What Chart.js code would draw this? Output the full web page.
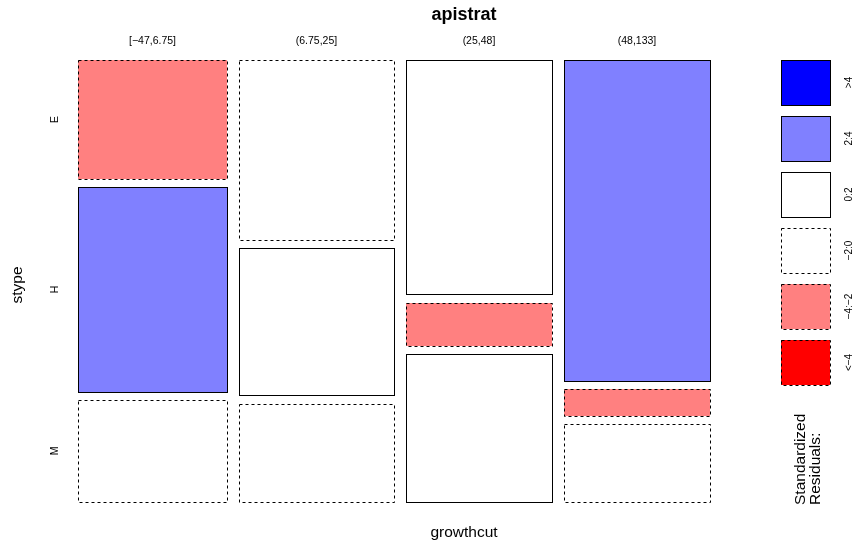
<!DOCTYPE html>
<html>
<head>
<meta charset="utf-8">
<script src="https://cdn.jsdelivr.net/npm/chart.js@4.4.0/dist/chart.umd.min.js"></script>
<style>
    body { margin: 0; background: #fff; }
    #wrap { width: 854px; height: 544px; }
</style>
</head>
<body>
<div id="wrap"><canvas id="mosaicChart"></canvas></div>
<script>
// Mosaic plot of apistrat: stype within growthcut, shaded by Pearson residuals

const growthcut = ['[\u221247,6.75]', '(6.75,25]', '(25,48]', '(48,133]'];
const stype = ['E', 'H', 'M'];

// counts for each growthcut column, in stype order E, H, M
const countsCut1 = [14, 24, 12];
const countsCut2 = [22, 18, 12];
const countsCut3 = [27, 5, 17];
const countsCut4 = [37, 3, 9];
const counts = [countsCut1, countsCut2, countsCut3, countsCut4];

const legendLabels = ['>4', '2:4', '0:2', '\u22122:0', '\u22124:\u22122', '<\u22124'];

const FONT = 'Liberation Sans, Arial, sans-serif';
const GAP = 0.019;   // spacing between tiles, as a fraction of each axis

// colours and border style for a residual value
function shadeFor(r) {
    if (r > 4) return { fill: '#0000ff', dashed: false };
    if (r > 2) return { fill: '#8080ff', dashed: false };
    if (r > 0) return { fill: '#ffffff', dashed: false };
    if (r >= -2) return { fill: '#ffffff', dashed: true };
    if (r >= -4) return { fill: '#ff8080', dashed: true };
    return { fill: '#ff0000', dashed: true };
}
const legendShades = [5, 3, 1, -1, -3, -5].map(shadeFor);

// Pearson residuals from the table
function residuals() {
    const colTot = counts.map(c => c.reduce((a, b) => a + b, 0));
    const rowTot = stype.map((_, j) => counts.reduce((a, c) => a + c[j], 0));
    const total = colTot.reduce((a, b) => a + b, 0);
    return counts.map((c, i) => c.map((n, j) => {
        const e = colTot[i] * rowTot[j] / total;
        return (n - e) / Math.sqrt(e);
    }));
}

// tile extents in data units (0..1 on both axes)
function buildTiles() {
    const res = residuals();
    const colTot = counts.map(c => c.reduce((a, b) => a + b, 0));
    const total = colTot.reduce((a, b) => a + b, 0);
    const netW = 1 - GAP * (counts.length - 1);
    const tiles = [];
    let x0 = 0;
    counts.forEach((col, i) => {
        const w = colTot[i] / total * netW;
        const netH = 1 - GAP * (col.length - 1);
        let y0 = 0;
        col.forEach((n, j) => {
            const h = n / colTot[i] * netH;
            tiles.push({ col: i, row: j, x0: x0, x1: x0 + w, y0: y0, y1: y0 + h, r: res[i][j] });
            y0 += h + GAP;
        });
        x0 += w + GAP;
    });
    return tiles;
}

function box(ctx, x0, y0, x1, y1, fill, dashed) {
    const l = Math.round(x0), t = Math.round(y0);
    const w = Math.round(x1) - l, h = Math.round(y1) - t;
    ctx.fillStyle = fill;
    ctx.fillRect(l, t, w, h);
    ctx.setLineDash(dashed ? [3, 3] : []);
    ctx.strokeStyle = '#000';
    ctx.lineWidth = 1;
    ctx.strokeRect(l + 0.5, t + 0.5, w, h);
    ctx.setLineDash([]);
}

function rotatedText(ctx, text, x, y, align) {
    ctx.save();
    ctx.translate(x, y);
    ctx.rotate(-Math.PI / 2);
    ctx.textAlign = align || 'center';
    ctx.fillText(text, 0, 0);
    ctx.restore();
}

const mosaicPlugin = {
    id: 'mosaic',
    afterDraw(chart) {
        const { ctx, chartArea } = chart;
        const xs = chart.scales.x, ys = chart.scales.y;
        const tiles = buildTiles();

        ctx.save();
        tiles.forEach(t => {
            const s = shadeFor(t.r);
            box(ctx, xs.getPixelForValue(t.x0), ys.getPixelForValue(t.y0),
                xs.getPixelForValue(t.x1), ys.getPixelForValue(t.y1), s.fill, s.dashed);
        });

        ctx.fillStyle = '#000';
        ctx.textBaseline = 'middle';

        // column labels on top
        ctx.font = '10.5px ' + FONT;
        ctx.textAlign = 'center';
        tiles.filter(t => t.row === 0).forEach(t => {
            const cx = xs.getPixelForValue((t.x0 + t.x1) / 2);
            ctx.fillText(growthcut[t.col], cx, chartArea.top - 19);
        });

        // row labels at the first column's tiles
        tiles.filter(t => t.col === 0).forEach(t => {
            const cy = ys.getPixelForValue((t.y0 + t.y1) / 2);
            rotatedText(ctx, stype[t.row], chartArea.left - 23, cy);
        });

        // titles
        const midX = (chartArea.left + 850) / 2;
        ctx.font = 'bold 18px ' + FONT;
        ctx.textAlign = 'center';
        ctx.fillText('apistrat', midX, 15);
        ctx.font = '15.5px ' + FONT;
        ctx.fillText('growthcut', midX, 533);
        rotatedText(ctx, 'stype', 18, (chartArea.top + chartArea.bottom) / 2 + 4);

        // residual legend
        const lx = chartArea.right + 71, bw = 49, bh = 45, step = 56;
        ctx.font = '10px ' + FONT;
        legendShades.forEach((s, k) => {
            const top = chartArea.top + k * step;
            box(ctx, lx, top, lx + bw, top + bh, s.fill, s.dashed);
            ctx.fillStyle = '#000';
            rotatedText(ctx, legendLabels[k], lx + 68, top + bh / 2);
        });

        ctx.font = '15.5px ' + FONT;
        ctx.textBaseline = 'alphabetic';
        rotatedText(ctx, 'Standardized', 805, 505, 'left');
        rotatedText(ctx, 'Residuals:', 820, 505, 'left');
        ctx.restore();
    }
};

const mosaicChart = new Chart(document.getElementById('mosaicChart').getContext('2d'), {
    type: 'scatter',
    data: { datasets: [{ data: [] }] },
    options: {
        responsive: true,
        maintainAspectRatio: false,
        animation: false,
        layout: {
            padding: { left: 78, right: 144, top: 60, bottom: 42 }
        },
        plugins: {
            legend: { display: false },
            tooltip: { enabled: false }
        },
        scales: {
            x: { type: 'linear', min: 0, max: 1, display: false },
            y: { type: 'linear', min: 0, max: 1, reverse: true, display: false }
        }
    },
    plugins: [mosaicPlugin]
});
</script>
</body>
</html>
